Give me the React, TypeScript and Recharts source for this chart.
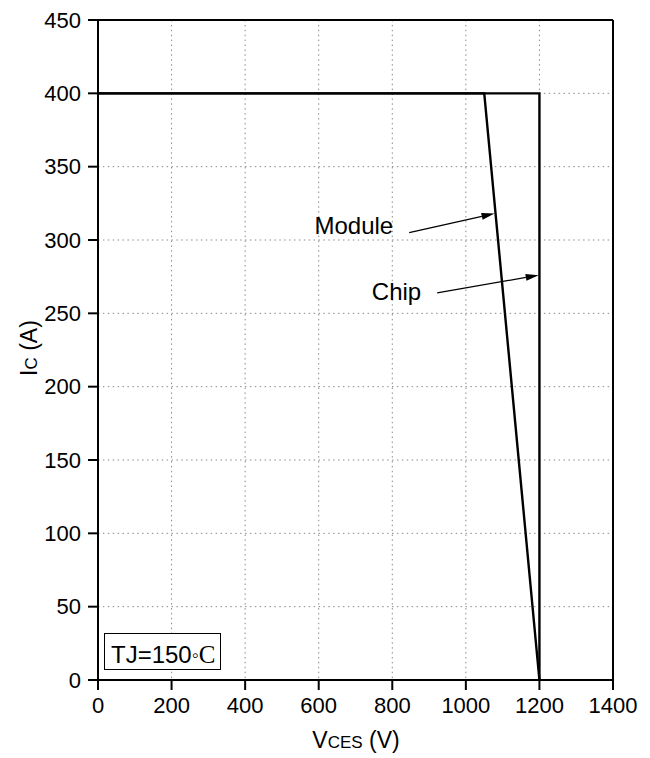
import React from 'react';
import { LineChart, Line, XAxis, YAxis, CartesianGrid, ReferenceLine } from 'recharts';

const xTicks = [0, 200, 400, 600, 800, 1000, 1200, 1400];
const yTicks = [0, 50, 100, 150, 200, 250, 300, 350, 400, 450];

// RBSOA outlines: Ic (A) against Vces (V)
const chipCurve = [
  { v: 0, ic: 400 },
  { v: 1200, ic: 400 },
  { v: 1200, ic: 0 },
];
const moduleCurve = [
  { v: 0, ic: 400 },
  { v: 1050, ic: 400 },
  { v: 1200, ic: 0 },
];

// annotation arrows: [start, tip]
const moduleArrow = [{ x: 846, y: 305 }, { x: 1078, y: 318 }];
const chipArrow = [{ x: 922, y: 264 }, { x: 1198, y: 276 }];

const FONT = '"Liberation Sans", Arial, sans-serif';
const W = 650;
const H = 758;

const makeArrow = (label: string, dy: number) => (props: any) => {
  const { x1, y1, x2, y2 } = props;
  const ang = Math.atan2(y2 - y1, x2 - x1);
  const len = 13;
  const half = 3.5;
  const bx = x2 - len * Math.cos(ang);
  const by = y2 - len * Math.sin(ang);
  const px = -Math.sin(ang) * half;
  const py = Math.cos(ang) * half;
  return (
    <g>
      <line x1={x1} y1={y1} x2={bx} y2={by} stroke="#000" strokeWidth={1.2} />
      <polygon points={`${x2},${y2} ${bx + px},${by + py} ${bx - px},${by - py}`} fill="#000" />
      <text x={x1 - 16} y={y1 + dy} textAnchor="end" fontSize={24} fontFamily={FONT} fill="#000">
        {label}
      </text>
    </g>
  );
};

export default function App() {
  return (
    <div style={{ position: 'absolute', left: 0, top: 0, width: W, height: H, background: '#fff' }}>
      <LineChart width={W} height={H} margin={{ top: 20, right: 37, left: 28, bottom: 38 }}>
        <CartesianGrid stroke="#8a8a8a" strokeDasharray="1.5 3.4" strokeWidth={1} />
        <XAxis
          dataKey="v"
          type="number"
          domain={[0, 1400]}
          ticks={xTicks}
          allowDataOverflow
          height={40}
          axisLine={{ stroke: '#000', strokeWidth: 2 }}
          tickLine={{ stroke: '#000', strokeWidth: 2 }}
          tickSize={10}
          tickMargin={7}
          tick={{ fill: '#000', fontSize: 22, fontFamily: FONT }}
        />
        <YAxis
          dataKey="ic"
          type="number"
          domain={[0, 450]}
          ticks={yTicks}
          allowDataOverflow
          width={70}
          axisLine={{ stroke: '#000', strokeWidth: 2 }}
          tickLine={{ stroke: '#000', strokeWidth: 2 }}
          tickSize={10}
          tickMargin={7}
          tick={{ fill: '#000', fontSize: 22, fontFamily: FONT }}
        />
        <ReferenceLine y={450} stroke="#000" strokeWidth={2} />
        <ReferenceLine x={1400} stroke="#000" strokeWidth={2} />
        <Line
          data={chipCurve}
          dataKey="ic"
          type="linear"
          stroke="#000"
          strokeWidth={2.4}
          dot={false}
          isAnimationActive={false}
        />
        <Line
          data={moduleCurve}
          dataKey="ic"
          type="linear"
          stroke="#000"
          strokeWidth={2.4}
          dot={false}
          isAnimationActive={false}
        />
        <ReferenceLine segment={moduleArrow} shape={makeArrow('Module', 1)} />
        <ReferenceLine segment={chipArrow} shape={makeArrow('Chip', 7)} />
      </LineChart>

      {/* axis titles and the temperature box */}
      <svg width={W} height={H} style={{ position: 'absolute', left: 0, top: 0, pointerEvents: 'none' }}>
        <text x={356} y={748} textAnchor="middle" fontFamily={FONT} fill="#000">
          <tspan fontSize={23}>V</tspan>
          <tspan fontSize={17}>CES</tspan>
          <tspan fontSize={23}> (V)</tspan>
        </text>
        <text x={37} y={348} textAnchor="middle" fontFamily={FONT} fill="#000" transform="rotate(-90, 37, 348)">
          <tspan fontSize={23}>I</tspan>
          <tspan fontSize={17}>C</tspan>
          <tspan fontSize={23}> (A)</tspan>
        </text>
        <rect x={104.5} y={633.5} width={116} height={36} fill="#fff" stroke="#000" strokeWidth={1} />
        <text x={111} y={663} fontFamily={FONT} fontSize={24} fill="#000">
          <tspan>TJ=150</tspan>
          <tspan fontSize={20} dy={-1}>◦</tspan>
          <tspan fontFamily='"Liberation Serif", serif' fontSize={25} dy={1}>C</tspan>
        </text>
      </svg>
    </div>
  );
}
